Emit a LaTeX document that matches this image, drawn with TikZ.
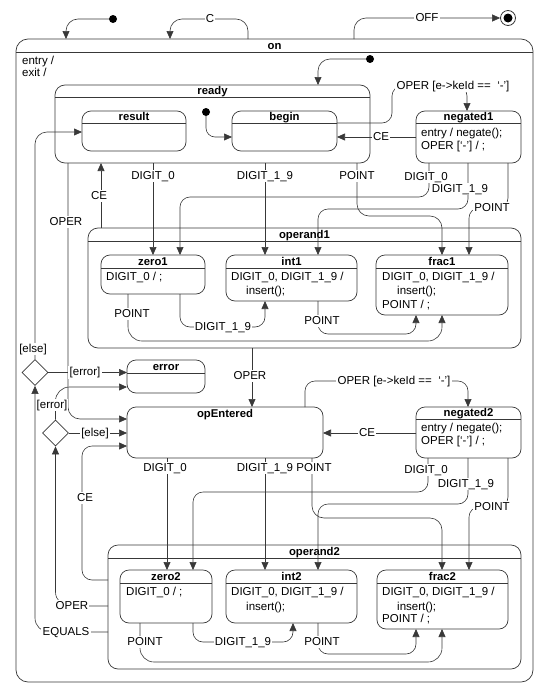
\documentclass[tikz,border=0pt]{standalone}
\usepackage{fontspec}
\setmainfont{Liberation Sans}
\usetikzlibrary{arrows.meta,shapes.geometric}
\definecolor{lc}{HTML}{383838}
% name, x1, y1, x2, y2, header y, title, radius
\newcommand\mkstate[8]{%
  \node[stbox, rounded corners=#8pt, anchor=north west,
        minimum width=#4pt-#2pt, minimum height=#5pt-#3pt] (#1) at (#2,#3) {};
  \draw[stline] (#1.west |- 0,#6) -- (#1.east |- 0,#6);
  \node[ttl] (#1-t) at ({(#2+#4)/2},{#6-2.8}) {#7};
}
\begin{document}
\begin{tikzpicture}[x=1pt,y=-1pt,
  stbox/.style={draw=lc, line width=0.7pt, inner sep=0pt, outer sep=0pt},
  stline/.style={draw=lc, line width=0.7pt},
  ttl/.style={font=\bfseries\fontsize{11.3}{13}\selectfont, inner sep=0pt, anchor=base},
  tx/.style={font=\fontsize{11.5}{13}\selectfont, inner sep=0pt, anchor=west, text height=8.5pt, text depth=2pt},
  lbl/.style={font=\fontsize{11.5}{13}\selectfont, fill=white, inner sep=1.2pt, text height=8.5pt, text depth=2pt},
  tr/.style={draw=lc, line width=0.6pt, rounded corners=10pt},
  ar/.style={-{Triangle[length=8pt,width=7pt]}},
  dotn/.style={circle, fill=black, inner sep=0pt, minimum size=8pt},
  dia/.style={diamond, draw=lc, line width=0.7pt, minimum width=26pt, minimum height=26pt, inner sep=0pt}
]
\useasboundingbox (0,0) rectangle (545,688);

% ---------- states ----------
\mkstate{on}{16}{39}{533}{682}{52}{on}{12}
\mkstate{ready}{55}{85}{370}{163}{97}{ready}{10}
\mkstate{result}{82}{111}{186}{151}{123}{result}{9}
\mkstate{begin}{232}{111}{337}{151}{123}{begin}{9}
\mkstate{negated1}{416}{111}{521}{163}{123}{negated1}{9}
\mkstate{operand1}{88}{228}{521}{348}{241}{operand1}{10}
\mkstate{zero1}{101}{255}{205}{294}{268}{zero1}{9}
\mkstate{int1}{226}{255}{357}{301}{268}{int1}{9}
\mkstate{frac1}{376}{255}{508}{315}{268}{frac1}{9}
\mkstate{error}{127}{360}{205}{393}{373}{error}{9}
\node[stbox, rounded corners=9pt, anchor=north west,
      minimum width=196pt, minimum height=51pt] (opEntered) at (127,407) {};
\node[ttl] (opEntered-t) at (225,417.2) {opEntered};
\mkstate{negated2}{416}{407}{521}{458}{419}{negated2}{9}
\mkstate{operand2}{108}{545}{521}{669}{558}{operand2}{10}
\mkstate{zero2}{120}{570}{212}{623}{583}{zero2}{9}
\mkstate{int2}{226}{570}{357}{623}{583}{int2}{9}
\mkstate{frac2}{377}{570}{508}{629}{583}{frac2}{9}

% ---------- state texts ----------
\node[tx] (onA) at (22,61) {entry /};
\node[tx] (onB) at (22,73) {exit /};
\node[tx] (n1A) at (421,133) {entry / negate();};
\node[tx] (n1B) at (421,146) {OPER [`-'] / ;};
\node[tx] (z1A) at (106,277) {DIGIT\_0 / ;};
\node[tx] (i1A) at (231,277) {DIGIT\_0, DIGIT\_1\_9 /};
\node[tx] (i1B) at (246,291) {insert();};
\node[tx] (f1A) at (382,277) {DIGIT\_0, DIGIT\_1\_9 /};
\node[tx] (f1B) at (397,291) {insert();};
\node[tx] (f1C) at (382,305) {POINT / ;};
\node[tx] (n2A) at (421,428) {entry / negate();};
\node[tx] (n2B) at (421,441) {OPER [`-'] / ;};
\node[tx] (z2A) at (126,592) {DIGIT\_0 / ;};
\node[tx] (i2A) at (231,592) {DIGIT\_0, DIGIT\_1\_9 /};
\node[tx] (i2B) at (246,607) {insert();};
\node[tx] (f2A) at (382,592) {DIGIT\_0, DIGIT\_1\_9 /};
\node[tx] (f2B) at (397,607) {insert();};
\node[tx] (f2C) at (382,619) {POINT / ;};

% ---------- pseudo states ----------
\node[dotn] (i0) at (113,19) {};
\node[dotn] (i1) at (370,59) {};
\node[dotn] (i2) at (206,112) {};
\node[circle, draw=lc, line width=0.8pt, minimum size=15pt, inner sep=0pt] (fin) at (508,18) {};
\fill[black] (fin.center) circle (4.5pt);
\node[dia] (d1) at (35,372.5) {};
\node[dia] (d2) at (55.5,433) {};

% ---------- transitions outside / top ----------
\draw[tr,ar,rounded corners=12pt] (i0) -| (on.north -| 66,0);
\draw[tr,ar,rounded corners=12pt] (on.north -| 248,0) |- (210,19) -| (on.north -| 170,0);
\node[lbl] (lC) at (210,19) {C};
\draw[tr,ar,rounded corners=12pt] (on.north -| 354,0) |- (fin);
\node[lbl] (lOFF) at (427,18) {OFF};
\draw[tr,ar,rounded corners=12pt] (i1) -| (ready.north -| 318,0);
\draw[tr,ar,rounded corners=9pt] (i2) |- (begin.west |- 0,137);

% begin -> negated1
\draw[tr,ar] (begin.east |- 0,123) -| (392,86) -| (negated1.north -| 467,0);
\node[lbl] (lOP1) at (453,86) {OPER [e->keId ==\ \ `-']};
% negated1 -> begin
\draw[tr,ar] (negated1.west |- 0,137) -- (begin.east |- 0,137);
\node[lbl] (lCE1) at (381,137) {CE};

% ready -> operand1
\draw[tr,ar] (ready.south -| 153,0) -- (zero1.north -| 153,0);
\node[lbl] (lR0) at (153,176) {DIGIT\_0};
\draw[tr,ar] (ready.south -| 265,0) -- (int1.north -| 265,0);
\node[lbl] (lR19) at (265,176) {DIGIT\_1\_9};
\draw[tr,ar,rounded corners=12pt] (ready.south -| 357,0) |- (400,216) -| (frac1.north -| 442,0);
\node[lbl] (lRP) at (357,176) {POINT};

% negated1 -> operand1
\draw[tr,ar] (negated1.south -| 429,0) |- (300,197) -| (zero1.north -| 180,0);
\draw[tr,ar] (negated1.south -| 468,0) |- (400,209) -| (int1.north -| 318,0);
\draw[tr,ar] (negated1.south -| 508,0) |- (488,208) -| (frac1.north -| 469,0);
\node[lbl] (lN0) at (426,177) {DIGIT\_0};
\node[lbl] (lN19) at (460,189) {DIGIT\_1\_9};
\node[lbl] (lNP) at (492,208) {POINT};

% operand1 -> ready (CE)
\draw[tr,ar] (operand1.north -| 101,0) -- (ready.south -| 101,0);
\node[lbl] (lCE2) at (99,196) {CE};

% ready -> opEntered (OPER)
\draw[tr,ar,rounded corners=12pt] (ready.south -| 68,0) |- (opEntered.west |- 0,419);
\node[lbl] (lOPR) at (66,222) {OPER};

% choice points
\draw[tr,ar,rounded corners=12pt] (d1.north) |- (result.west |- 0,132);
\node[lbl] (lE1) at (33,349) {[else]};
\draw[tr,ar] (d1.east) -- (error.west |- d1.east);
\node[lbl] (lErr1) at (85,372.5) {[error]};
\draw[tr,ar,rounded corners=14pt] (d2.north) |- (error.west |- 0,387);
\node[lbl,inner sep=0.5pt] (lErr2) at (52,405) {[error]};
\draw[tr,ar] (d2.east) -- (opEntered.west |- d2.east);
\node[lbl] (lE2) at (95,433) {[else]};

% operand1 internal
\draw[tr,ar,rounded corners=14pt] (zero1.south -| 128,0) |- (300,341) -| (frac1.south -| 442,0);
\node[lbl] (lZ1P) at (132,314) {POINT};
\draw[tr,ar] (zero1.south -| 180,0) |- (223,327) -| (int1.south -| 265,0);
\node[lbl] (lZ119) at (223,327) {DIGIT\_1\_9};
\draw[tr,ar] (int1.south -| 318,0) |- (380,334) -| (frac1.south -| 416,0);
\node[lbl] (lI1P) at (322,321) {POINT};

% operand1 -> opEntered
\draw[tr,ar] (operand1.south -| 252,0) -- (opEntered.north -| 252,0);
\node[lbl] (lOP2) at (250,376) {OPER};

% opEntered <-> negated2
\draw[tr,ar] (opEntered.north -| 305,0) |- (400,381) -| (negated2.north -| 468,0);
\node[lbl] (lOP3) at (394,381) {OPER [e->keId ==\ \ `-']};
\draw[tr,ar] (negated2.west |- 0,433) -- (opEntered.east |- 0,433);
\node[lbl] (lCE3) at (367,433) {CE};

% opEntered -> operand2
\draw[tr,ar] (opEntered.south -| 167,0) -- (zero2.north -| 167,0);
\node[lbl] (lO0) at (165,468) {DIGIT\_0};
\draw[tr,ar] (opEntered.south -| 265,0) -- (int2.north -| 265,0);
\node[lbl] (lO19) at (265,468) {DIGIT\_1\_9};
\draw[tr,ar,rounded corners=12pt] (opEntered.south -| 312,0) |- (400,518) -| (frac2.north -| 442,0);
\node[lbl] (lOP) at (314,468) {POINT};

% negated2 -> operand2
\draw[tr,ar] (negated2.south -| 428,0) |- (300,492) -| (zero2.north -| 193,0);
\draw[tr,ar] (negated2.south -| 468,0) |- (400,504) -| (int2.north -| 318,0);
\draw[tr,ar] (negated2.south -| 508,0) |- (488,507) -| (frac2.north -| 469,0);
\node[lbl] (lM0) at (426,470) {DIGIT\_0};
\node[lbl] (lM19) at (466,484) {DIGIT\_1\_9};
\node[lbl] (lMP) at (492,507) {POINT};

% operand2 -> opEntered / choices
\draw[tr,ar] (operand2.west |- 0,580) -| (82,446) -- (opEntered.west |- 0,446);
\node[lbl] (lCE4) at (85,498) {CE};
\draw[tr,ar,rounded corners=14pt] (operand2.west |- 0,606) -| (d2.south);
\node[lbl] (lOP4) at (72,606) {OPER};
\draw[tr,ar,rounded corners=14pt] (operand2.west |- 0,632) -| (d1.south);
\node[lbl] (lEQ) at (66,632) {EQUALS};

% operand2 internal
\draw[tr,ar,rounded corners=14pt] (zero2.south -| 140,0) |- (300,662) -| (frac2.south -| 442,0);
\node[lbl] (lZ2P) at (145,642) {POINT};
\draw[tr,ar] (zero2.south -| 193,0) |- (243,642) -| (int2.south -| 293,0);
\node[lbl] (lZ219) at (243,642) {DIGIT\_1\_9};
\draw[tr,ar] (int2.south -| 318,0) |- (380,654) -| (frac2.south -| 416,0);
\node[lbl] (lI2P) at (322,642) {POINT};
\end{tikzpicture}
\end{document}
